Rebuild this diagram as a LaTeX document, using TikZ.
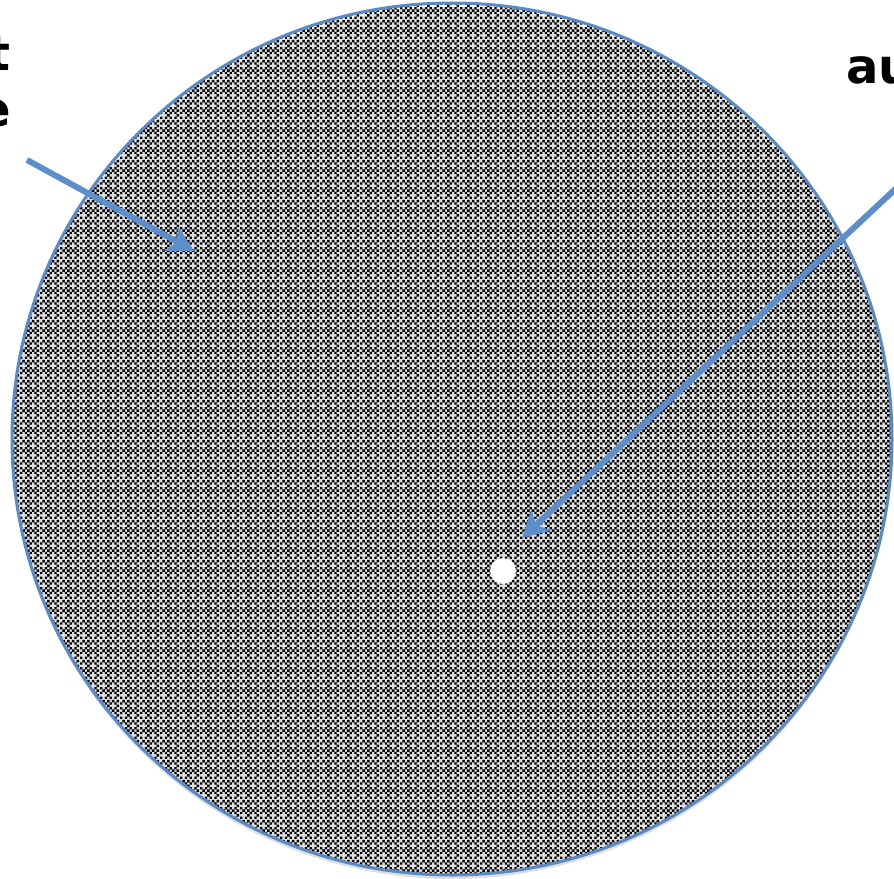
\documentclass[tikz,border=0pt]{standalone}
\usepackage{fontspec}
\setmainfont{DejaVu Sans}
\usetikzlibrary{arrows.meta,patterns,shadows}
\definecolor{rim}{HTML}{5A8AC6}
\definecolor{pointer}{HTML}{5B8ECB}

% checkerboard with little white crosses
\pgfdeclarepatternformonly{checkcross}{\pgfpointorigin}{\pgfpoint{20pt}{20pt}}{\pgfpoint{20pt}{20pt}}{%
  \foreach \i in {0,...,7}{
    \foreach \j in {0,...,7}{
      \pgfmathtruncatemacro\cellsum{mod(\i+\j,2)}
      \pgfmathtruncatemacro\cellhole{(\i==1 || \i==5) && (\j==1 || \j==5)}
      \ifnum\cellsum=0 \ifnum\cellhole=0
        \pgfpathrectangle{\pgfpoint{\i*2.5pt}{\j*2.5pt}}{\pgfpoint{2.5pt}{2.5pt}}
      \fi\fi
    }
  }
  \pgfusepath{fill}
}

\tikzset{
  disk/.style={fill=white,pattern=checkcross,pattern color=black,
    drop shadow={opacity=.25,shadow xshift=0pt,shadow yshift=-4pt}},
  rimline/.style={draw=rim,line width=3pt},
  pointerline/.style={pointer,line width=6pt,-{Stealth[length=26pt,width=28pt,inset=7pt]}},
  callout/.style={font=\bfseries\fontsize{48}{57}\selectfont,inner sep=0pt}
}

\begin{document}
\begin{tikzpicture}[x=1pt,y=-1pt]
  \useasboundingbox[fill=white] (0,0) rectangle (894,878);

  % the patterned disc
  \path[disk] (452,439) ellipse [x radius=440,y radius=436];
  \draw[rimline] (452,439) ellipse [x radius=440,y radius=436];
  \fill[white] (503,571) circle (13);
  \coordinate (hole) at (503,571);

  % cut-off labels
  \node[callout,anchor=base east] (lblt) at (11,70) {t};
  \node[callout,anchor=base east] (lble) at (11,126) {e};
  \node[callout,anchor=base west] (lblau) at (846,83) {au};

  % pointers
  \coordinate (tailA) at (27,160);
  \coordinate (tipA) at (194,251);
  \coordinate (tailB) at (905,180);
  \coordinate (tipB) at (522,538);
  \draw[pointerline] (tailA) -- (tipA);
  \draw[pointerline] (tailB) -- (tipB);
\end{tikzpicture}
\end{document}
